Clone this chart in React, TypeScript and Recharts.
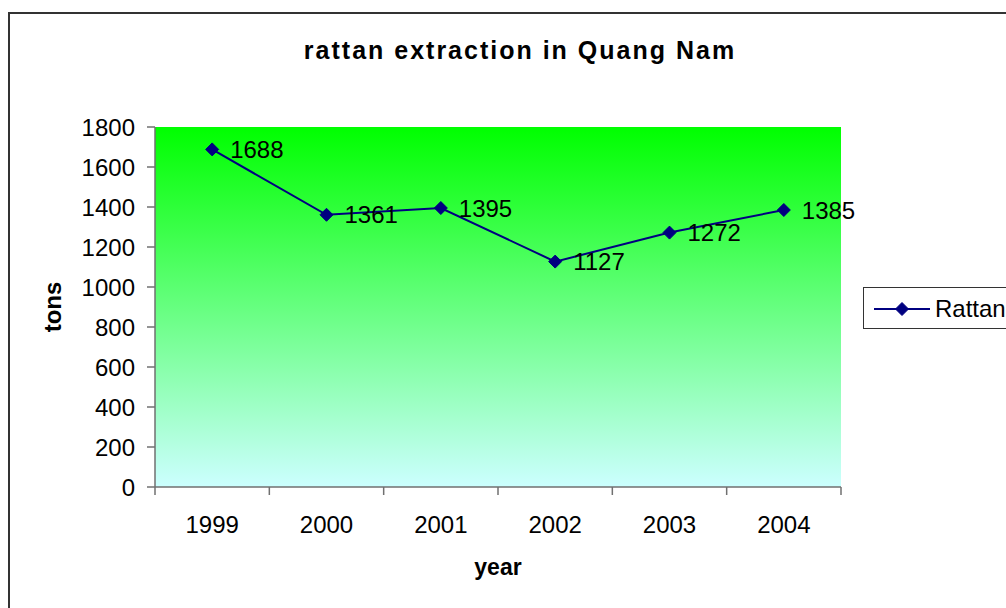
import { LineChart, Line, XAxis, YAxis, CartesianGrid, LabelList } from "recharts";

const years = ["1999", "2000", "2001", "2002", "2003", "2004"];
const rattan = [1688, 1361, 1395, 1127, 1272, 1385];
const yTicks = [0, 200, 400, 600, 800, 1000, 1200, 1400, 1600, 1800];

// x sits at the middle of each year's band so tick marks can fall between years
const data = years.map((year, i) => ({ x: i + 0.5, year, value: rattan[i] }));
const xTicks = [0, 0.5, 1, 1.5, 2, 2.5, 3, 3.5, 4, 4.5, 5, 5.5, 6];

const FONT = "'Liberation Sans', Arial, sans-serif";
const NAVY = "#000080";
const AXIS = "#707070";

function Diamond({ cx, cy }: any) {
  if (cx == null || cy == null) return null;
  const r = 6.5;
  return (
    <polygon
      points={`${cx},${cy - r} ${cx + r},${cy} ${cx},${cy + r} ${cx - r},${cy}`}
      fill={NAVY}
      stroke={NAVY}
    />
  );
}

function XTick({ x, y, payload }: any) {
  const v = payload.value;
  if (Number.isInteger(v)) {
    return <line x1={x} x2={x} y1={y} y2={y + 8} stroke={AXIS} strokeWidth={1.5} />;
  }
  return (
    <text x={x} y={y + 46} textAnchor="middle" fontSize={24} fontFamily={FONT} fill="#000">
      {years[Math.floor(v)]}
    </text>
  );
}

// rotated y-axis title, centred on the plot height
function TonsLabel({ viewBox }: any) {
  if (!viewBox) return null;
  const x = viewBox.x + 52;
  const y = viewBox.y + viewBox.height / 2;
  return (
    <text
      x={x}
      y={y}
      transform={`rotate(-90 ${x} ${y})`}
      textAnchor="middle"
      dominantBaseline="central"
      fontSize={24}
      fontWeight="bold"
      fontFamily={FONT}
      fill="#000"
    >
      tons
    </text>
  );
}

function LegendBox() {
  return (
    <div
      style={{
        position: "absolute",
        left: 863,
        top: 287,
        width: 170,
        height: 42,
        border: "1px solid #333",
        background: "#fff",
        boxSizing: "border-box",
        fontFamily: FONT,
      }}
    >
      <svg width={70} height={40} style={{ position: "absolute", left: 8, top: 0 }}>
        <line x1={2} x2={58} y1={21} y2={21} stroke={NAVY} strokeWidth={2} />
        <Diamond cx={30} cy={21} />
      </svg>
      <span style={{ position: "absolute", left: 71, top: 7, fontSize: 24, color: "#000" }}>Rattan</span>
    </div>
  );
}

export default function App() {
  return (
    <div style={{ position: "absolute", left: 0, top: 0, width: 1006, height: 608, overflow: "hidden", background: "#fff" }}>
      <div
        style={{
          position: "absolute",
          left: 8,
          top: 12,
          width: 1020,
          height: 620,
          border: "2px solid #333",
          boxSizing: "border-box",
        }}
      />
      <div
        style={{
          position: "absolute",
          left: 0,
          width: 1040,
          top: 36,
          textAlign: "center",
          fontFamily: FONT,
          fontWeight: "bold",
          fontSize: 25,
          letterSpacing: 2,
          color: "#000",
        }}
      >
        rattan extraction in Quang Nam
      </div>
      <div style={{ position: "absolute", left: 0, top: 0 }}>
        <LineChart width={1006} height={608} data={data} margin={{ top: 127, right: 165, bottom: 0, left: 0 }}>
          <defs>
            <linearGradient id="plotBg" x1="0" y1="0" x2="0" y2="1">
              <stop offset="0%" stopColor="#00ff00" />
              <stop offset="100%" stopColor="#ccffff" />
            </linearGradient>
          </defs>
          <CartesianGrid fill="url(#plotBg)" horizontal={false} vertical={false} stroke="none" />
          <XAxis
            dataKey="x"
            type="number"
            domain={[0, 6]}
            ticks={xTicks}
            interval={0}
            height={121}
            tickLine={false}
            tickSize={0}
            tickMargin={0}
            tick={<XTick />}
            axisLine={{ stroke: AXIS, strokeWidth: 1.5 }}
            label={{
              value: "year",
              position: "insideBottom",
              offset: 33,
              fontSize: 23,
              fontWeight: "bold",
              fontFamily: FONT,
              fill: "#000",
            }}
          />
          <YAxis
            type="number"
            domain={[0, 1800]}
            ticks={yTicks}
            interval={0}
            width={155}
            tickSize={8}
            tickMargin={12}
            tick={{ fontSize: 24, fontFamily: FONT, fill: "#000" }}
            tickLine={{ stroke: AXIS, strokeWidth: 1.5 }}
            axisLine={{ stroke: AXIS, strokeWidth: 1.5 }}
            label={<TonsLabel />}
          />
          <Line
            dataKey="value"
            name="Rattan"
            stroke={NAVY}
            strokeWidth={2}
            dot={<Diamond />}
            activeDot={false}
            isAnimationActive={false}
          >
            <LabelList
              dataKey="value"
              position="right"
              offset={18}
              fontSize={24}
              fontFamily={FONT}
              fill="#000"
            />
          </Line>
        </LineChart>
      </div>
      <LegendBox />
    </div>
  );
}
